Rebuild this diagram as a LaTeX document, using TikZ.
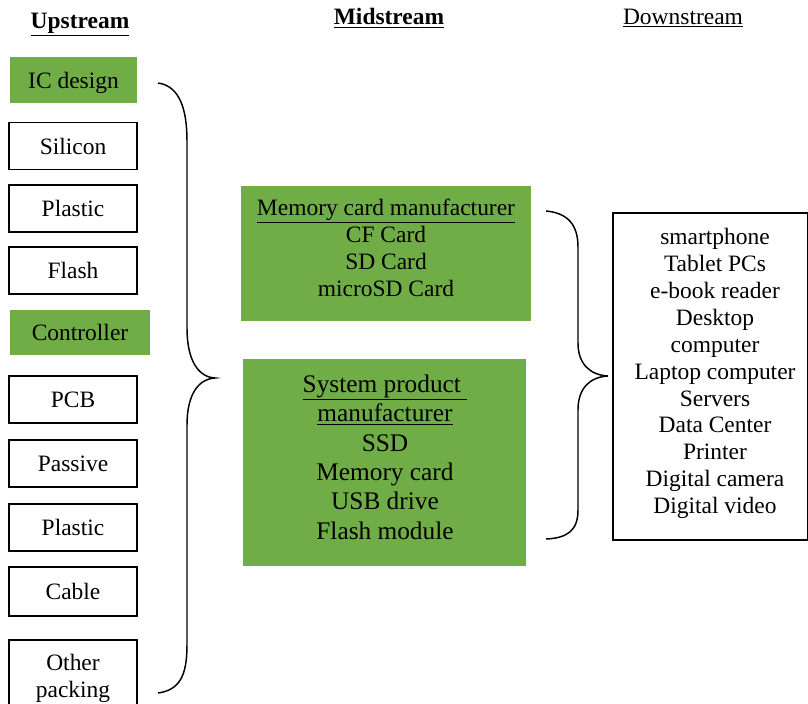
\documentclass[tikz,border=0pt]{standalone}
\usepackage{fontspec}
\setmainfont{Liberation Serif}
\usetikzlibrary{fit}
\definecolor{leaf}{HTML}{70AD47}
\tikzset{
  x=0.75pt, y=-0.75pt,
  base/.style={font=\fontsize{17.6}{20.2}\selectfont, align=center},
  plainbox/.style={draw, line width=1.1pt, inner sep=0pt, base,
    minimum width=96pt, minimum height=35pt},
  greenbox/.style={fill=leaf, draw=none, inner sep=0pt, base},
  fitbox/.style={draw, line width=1.1pt, inner sep=0pt},
  txt/.style={base, inner sep=0pt},
  brace/.style={line width=1.1pt},
}
\newcommand\ul[1]{\underline{#1}}
\begin{document}
\begin{tikzpicture}
\useasboundingbox (0,0) rectangle (808,704);
\clip (0,0) rectangle (808,704);

% column titles
\node[txt] (up)   at (80,25)  {\textbf{\ul{Upstream}}};
\node[txt] (mid)  at (389,18) {\textbf{\ul{Midstream}}};
\node[txt] (down) at (683,18) {\ul{Downstream}};

% upstream boxes
\node[greenbox, minimum width=95.25pt, minimum height=34.5pt, text depth=0pt] (icd) at (73.5,80) {IC design};
\node[plainbox] (sil) at (73,146)   {Silicon};
\node[plainbox] (pla) at (73,208.5) {Plastic};
\node[plainbox] (fla) at (73,270.5) {Flash};
\node[greenbox, minimum width=105pt, minimum height=33.75pt] (ctl) at (80,332.5) {Controller};
\node[plainbox] (pcb) at (73,399.5) {PCB};
\node[plainbox] (pas) at (73,463.5) {Passive};
\node[plainbox] (plb) at (73,527.5) {Plastic};
\node[plainbox, minimum height=36.75pt] (cab) at (73,591.5) {Cable};
\node[fitbox, fit={(9,640) (137,740)}] (oth) {};
\node[txt] (othtext) at (73,678) {Other\\packing};

% midstream boxes
\node[greenbox, fit={(241,186) (531,321)}] (mcm) {};
\node[txt] (mcmtext) at (386,248)
  {\ul{Memory card manufacturer}\\CF Card\\SD Card\\microSD Card};
\node[greenbox, fit={(243,359) (526,566)}] (spm) {};
\node[txt, font=\fontsize{19}{22}\selectfont] (spmtext) at (385,457)
  {\ul{System product\ }\\\ul{manufacturer}\\SSD\\Memory card\\USB drive\\Flash module};

% downstream box
\node[fitbox, fit={(613,213) (808,540)}] (app) {};
\node[txt] (apptext) at (715,373.5)
  {smartphone\\Tablet PCs\\e-book reader\\Desktop\\computer\\Laptop computer\\Servers\\Data Center\\Printer\\Digital camera\\Digital video};

% braces
\coordinate (lbtop) at (158,83);
\coordinate (lbtip) at (215,378);
\coordinate (lbbot) at (158,693);
\draw[brace] (lbtop) .. controls (180,86) and (187,110) .. (187,141)
  -- (187,328) .. controls (187,360) and (198,377) .. (lbtip)
  .. controls (198,379) and (187,395) .. (187,425)
  -- (187,645) .. controls (187,675) and (180,690) .. (lbbot);

\coordinate (rbtop) at (546,211);
\coordinate (rbtip) at (608,376);
\coordinate (rbbot) at (546,539);
\draw[brace] (rbtop) .. controls (568,213) and (578,225) .. (578,247)
  -- (578,343) .. controls (578,364) and (590,375) .. (rbtip)
  .. controls (590,377) and (578,388) .. (578,410)
  -- (578,510) .. controls (578,530) and (568,538) .. (rbbot);
\end{tikzpicture}
\end{document}
